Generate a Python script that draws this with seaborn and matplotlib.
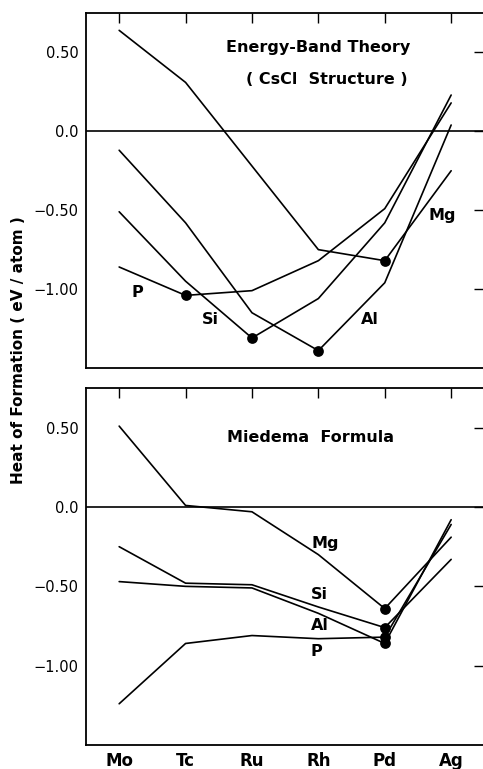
import matplotlib
matplotlib.use('Agg')
import matplotlib.pyplot as plt
import seaborn as sns
import numpy as np
import pandas as pd

# ==========================================
# Data (eV / atom)
# ==========================================
metals = ['Mo', 'Tc', 'Ru', 'Rh', 'Pd', 'Ag']
alloys = ['Mg', 'Al', 'Si', 'P']

# Energy-band theory (CsCl structure)
band_mg = [0.64, 0.31, -0.22, -0.75, -0.82, -0.25]
band_al = [-0.12, -0.58, -1.15, -1.39, -0.96, 0.04]
band_si = [-0.51, -0.95, -1.31, -1.06, -0.58, 0.23]
band_p = [-0.86, -1.04, -1.01, -0.82, -0.49, 0.18]
band_min = ['Pd', 'Rh', 'Ru', 'Tc']   # marked point for Mg, Al, Si, P

# Miedema formula
mied_mg = [0.51, 0.01, -0.03, -0.30, -0.64, -0.19]
mied_al = [-0.47, -0.50, -0.51, -0.67, -0.86, -0.08]
mied_si = [-0.25, -0.48, -0.49, -0.63, -0.76, -0.33]
mied_p = [-1.24, -0.86, -0.81, -0.83, -0.82, -0.11]
mied_min = ['Pd', 'Pd', 'Pd', 'Pd']

ytick_vals = [0.5, 0.0, -0.5, -1.0]
ytick_labels = ['0.50', '0.0', '\u22120.50', '\u22121.00']


def long_table(series, marked):
    rows = []
    dots = []
    for alloy, vals, m in zip(alloys, series, marked):
        for i, (metal, v) in enumerate(zip(metals, vals)):
            rows.append({'alloy': alloy, 'pos': i, 'heat': v})
            if metal == m:
                dots.append({'alloy': alloy, 'pos': i, 'heat': v})
    return pd.DataFrame(rows), pd.DataFrame(dots)


def style_axis(ax, show_xlabels):
    ax.set_xlim(-0.5, 5.5)
    ax.set_ylim(-1.5, 0.75)
    ax.axhline(0, color='black', lw=1.2)
    ax.set_xticks(range(len(metals)))
    ax.set_xticklabels(metals, fontsize=12, weight='bold')
    ax.set_yticks(ytick_vals)
    ax.set_yticklabels(ytick_labels, fontsize=10.5)
    ax.tick_params(direction='in', length=7, width=1, top=True, right=True,
                   colors='black')
    ax.tick_params(axis='y', pad=5.5)
    ax.tick_params(axis='x', pad=5, labelbottom=show_xlabels)
    ax.set_xlabel('')
    ax.set_ylabel('')
    for sp in ax.spines.values():
        sp.set_linewidth(1.3)
        sp.set_color('black')
    ax.spines['right'].set_visible(False)


def draw_panel(ax, series, marked):
    lines, dots = long_table(series, marked)
    sns.lineplot(data=lines, x='pos', y='heat', units='alloy', estimator=None,
                 sort=False, color='black', lw=1.2, ax=ax, legend=False)
    sns.scatterplot(data=dots, x='pos', y='heat', color='black', s=60,
                    edgecolor='black', linewidth=0, ax=ax, legend=False, zorder=3)


sns.set_style('white')
plt.rcParams['font.family'] = ['DejaVu Sans']
plt.rcParams['axes.unicode_minus'] = True
plt.rcParams['text.color'] = 'black'

fig = plt.figure(figsize=(4.83, 7.69), dpi=100)
ax1 = fig.add_axes([0.178, 0.5215, 0.8248, 0.4616])
ax2 = fig.add_axes([0.178, 0.0312, 0.8248, 0.4642])

draw_panel(ax1, [band_mg, band_al, band_si, band_p], band_min)
draw_panel(ax2, [mied_mg, mied_al, mied_si, mied_p], mied_min)
style_axis(ax1, False)
style_axis(ax2, True)

lab = dict(fontsize=11.5, weight='bold', ha='center', va='center', color='black')
ax1.text(3.0, 0.534, 'Energy-Band Theory', **lab)
ax1.text(3.12, 0.33, '( CsCl  Structure )', **lab)
ax1.text(0.27, -1.023, 'P', **lab)
ax1.text(1.38, -1.19, 'Si', **lab)
ax1.text(3.78, -1.195, 'Al', **lab)
ax1.text(4.86, -0.535, 'Mg', **lab)

ax2.text(2.88, 0.436, 'Miedema  Formula', **lab)
ax2.text(3.10, -0.23, 'Mg', **lab)
ax2.text(3.02, -0.55, 'Si', **lab)
ax2.text(3.02, -0.749, 'Al', **lab)
ax2.text(2.97, -0.908, 'P', **lab)

fig.text(18.5 / 483, 1 - 350 / 769, 'Heat of Formation ( eV / atom )',
         rotation=90, ha='center', va='center', fontsize=11, weight='bold',
         color='black')

fig.savefig('out.png', dpi=100)
